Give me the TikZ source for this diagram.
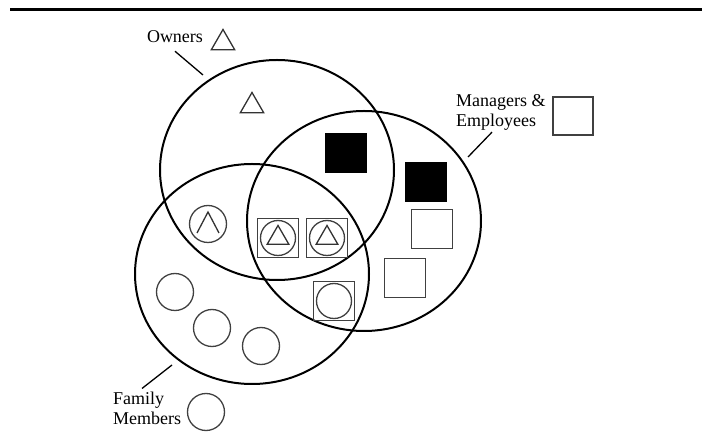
\documentclass[tikz,border=0pt]{standalone}
\usepackage{fontspec}
\setmainfont{Liberation Serif}
\usetikzlibrary{shapes.geometric}

\begin{document}
\begin{tikzpicture}[x=1pt,y=-1pt,
	set/.style={draw,ellipse,line width=2pt,minimum width=234pt,minimum height=220pt,inner sep=0pt},
	ring/.style={draw=black!75,circle,line width=1.3pt,minimum size=37pt,inner sep=0pt},
	tri/.style={draw=black!80,regular polygon,regular polygon sides=3,line width=1.3pt,minimum size=27pt,inner sep=0pt},
	box/.style={draw=black!75,rectangle,line width=1.3pt,minimum width=41pt,minimum height=39pt,inner sep=0pt},
	blk/.style={box,draw=black,fill=black},
	lbl/.style={font=\fontsize{18}{20}\selectfont,inner sep=0pt,align=left},
	leader/.style={line width=1.3pt}]
	\useasboundingbox (0,0) rectangle (702,443);
	\draw[line width=3pt] (10,10) -- (702,10);
	% the three sets
	\node[set] (owners)   at (277,170) {};
	\node[set] (managers) at (364,221) {};
	\node[set] (family)   at (252,274) {};
	% keys
	\node[lbl] (ownerslbl) at (175,37) {Owners};
	\node[tri] (ownerskey) at (223,43) {};
	\coordinate (ownerstip) at (203,75);
	\draw[leader] ([yshift=-8pt]ownerslbl.south) -- (ownerstip);
	\node[lbl,anchor=west] (mgrlbl) at (456,112) {Managers \&\\Employees};
	\node[box,minimum width=40pt,minimum height=38pt] (mgrkey) at (573,116) {};
	\coordinate (mgrtip) at (468,157);
	\draw[leader] ([xshift=36pt,yshift=-2pt]mgrlbl.south west) -- (mgrtip);
	\node[lbl,anchor=west] (famlbl) at (113,408) {Family\\Members};
	\node[ring] (famkey) at (206,412) {};
	\coordinate (famtip) at (172,365);
	\draw[leader] ([xshift=29pt,yshift=3pt]famlbl.north west) -- (famtip);
	% members
	\node[tri] (o1) at (252,106) {};
	\node[blk] (b1) at (346,153) {};
	\node[blk] (b2) at (426,182) {};
	\node[box] (e1) at (432,229) {};
	\node[box] (e2) at (405,278) {};
	\node[ring] (oc) at (208,224) {};
	\draw[draw=black!80,line width=1.3pt] (oc.center) +(-11,9) -- +(0,-12) -- +(11,9);
	\foreach \x/\n in {278/ob1,327/ob2} {
		\node[box] (\n) at (\x,238) {};
		\node[ring,minimum size=35pt] (\n c) at (\n) {};
		\node[tri,minimum size=25pt] (\n t) at (\n) {};
	}
	\node[box] (mb) at (334,301) {};
	\node[ring,minimum size=35pt] (mbc) at (mb) {};
	\foreach \p [count=\i] in {(175,292),(212,328),(261,346)} \node[ring] (fam\i) at \p {};
\end{tikzpicture}
\end{document}
